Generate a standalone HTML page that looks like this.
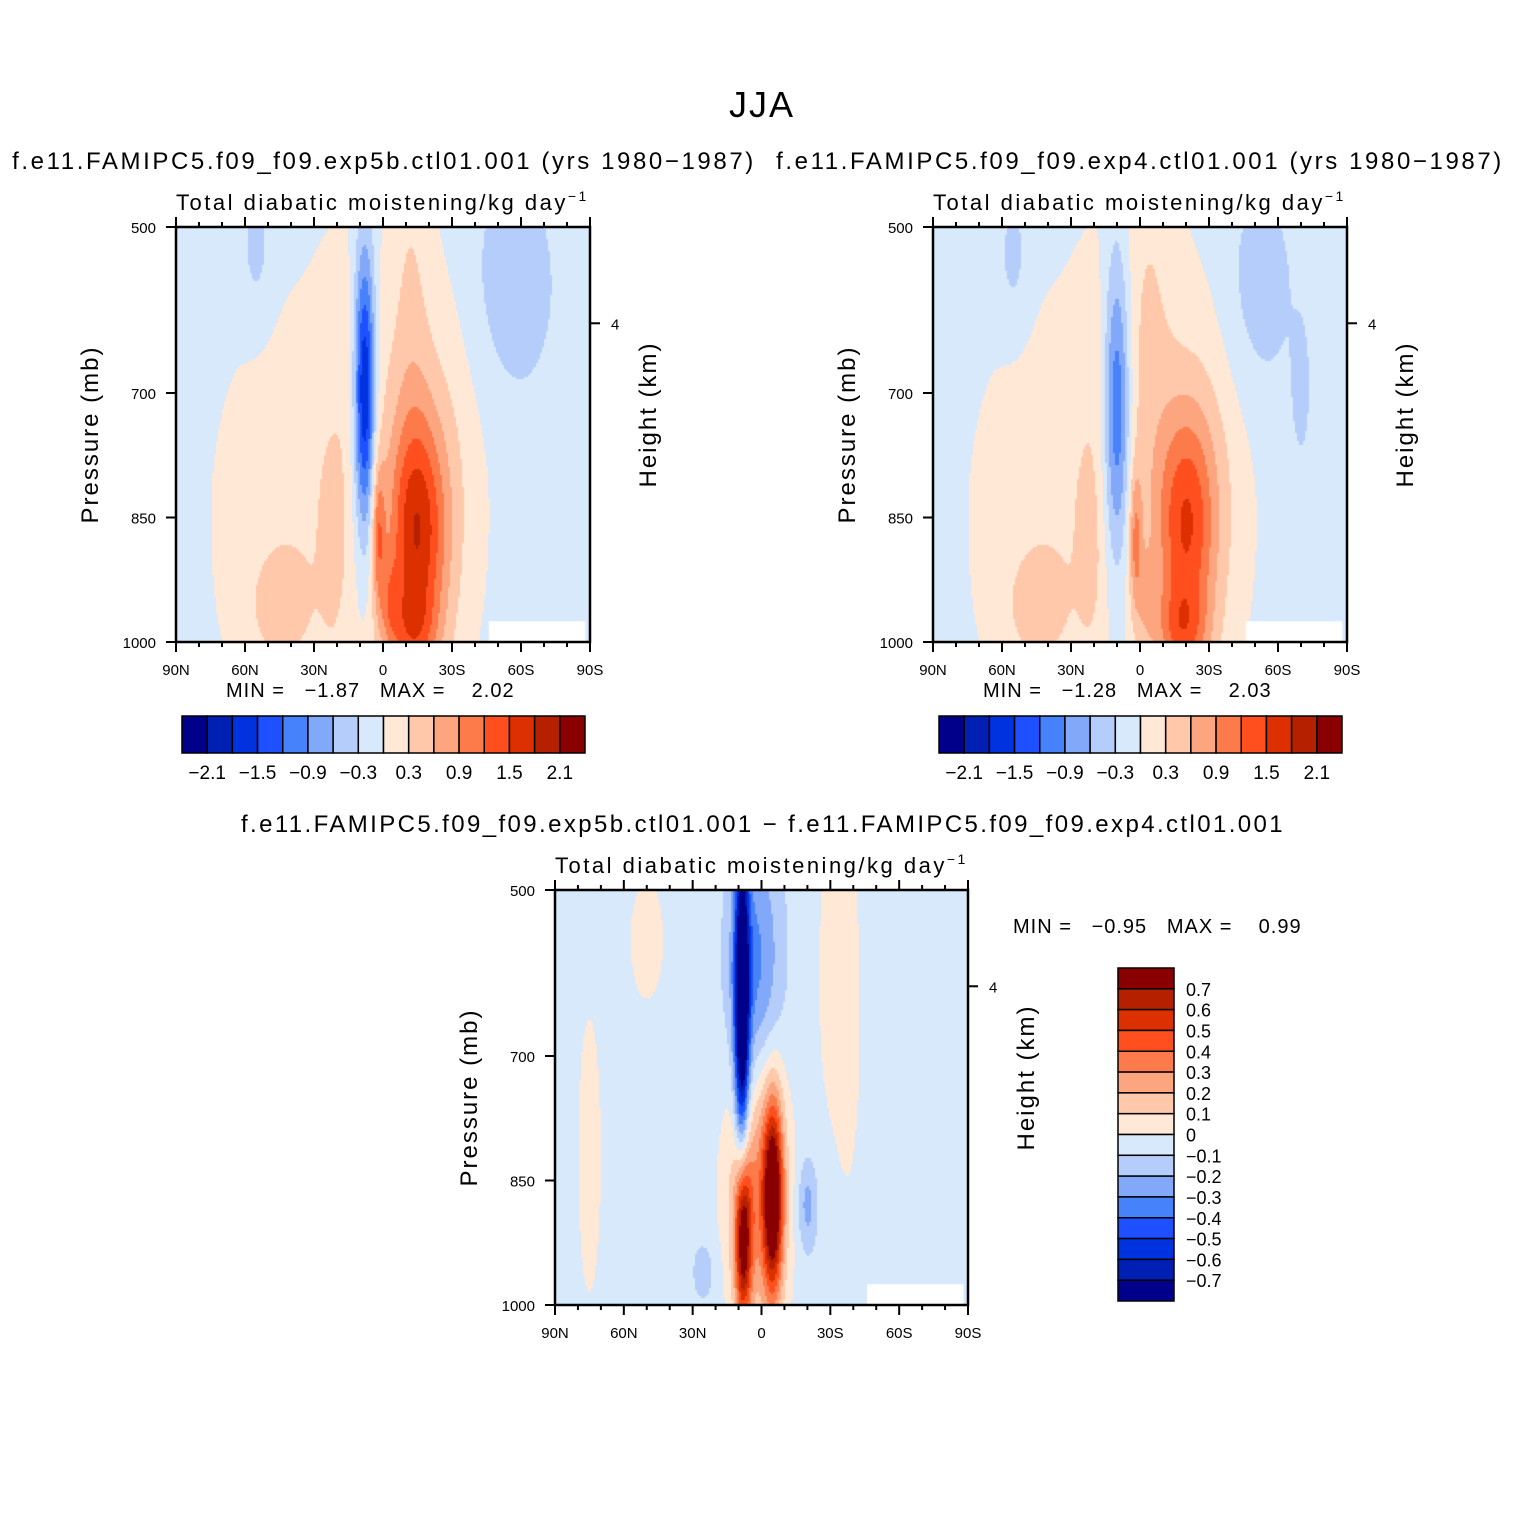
<!DOCTYPE html>
<html><head><meta charset="utf-8">
<style>
body{margin:0;background:#fff;width:1524px;height:1524px;position:relative;overflow:hidden;font-family:"Liberation Sans",sans-serif}
canvas{position:absolute}
svg{position:absolute;left:0;top:0}
text{white-space:pre}
</style></head><body>
<canvas id="c1" style="left:176px;top:227px" width="414" height="415"></canvas>
<canvas id="c2" style="left:933px;top:227px" width="414" height="415"></canvas>
<canvas id="c3" style="left:555px;top:890px" width="413" height="415"></canvas>
<svg id="s" width="1524" height="1524" xmlns="http://www.w3.org/2000/svg"></svg>
<script>
// ---- data ----
const levelsAbs=[-2.1,-1.8,-1.5,-1.2,-0.9,-0.6,-0.3,0,0.3,0.6,0.9,1.2,1.5,1.8,2.1];
const levelsDiff=[-0.7,-0.6,-0.5,-0.4,-0.3,-0.2,-0.1,0,0.1,0.2,0.3,0.4,0.5,0.6,0.7];
const colors=['#00008a','#0020b4','#0033e0','#1e50ff','#4682fa','#82a8fa','#b4cdfa','#d7e9fb','#ffe8d6','#ffc8ab','#fca57f','#fd7a4a','#ff4f1e','#dc3000','#b42000','#8a0000'];
const xTickLabels=['90N','60N','30N','0','30S','60S','90S'];
const xTickLats=[90,60,30,0,-30,-60,-90];
const yTickVals=[500,700,850,1000];
const barLabelsAbs=['−2.1','−1.5','−0.9','−0.3','0.3','0.9','1.5','2.1'];
const barLabelsDiff=['0.7','0.6','0.5','0.4','0.3','0.2','0.1','0','−0.1','−0.2','−0.3','−0.4','−0.5','−0.6','−0.7'];
// field blobs: lat, p, amplitude, lat-width, p-width
const bg1=-0.15;
const f1Lat=[35,45,8,-15,-12,2,-12,55,-55,22,-3,-25,12];
const f1P=[850,960,700,870,990,870,560,530,570,900,950,800,650];
const f1Amp=[0.36,0.35,-2.0,1.45,0.7,0.9,0.3,-0.3,-0.35,0.25,0.5,0.4,0.2];
const f1WLat=[30,10,3.2,9,8,2,6,5,14,4,3,15,12];
const f1WP=[200,50,120,100,40,60,250,60,100,80,40,200,150];
const bg2=-0.15;
const f2Lat=[35,45,10,-20,-18,2,-5,55,-50,22,-3,-70,-30,12];
const f2P=[850,960,720,860,990,880,560,540,580,900,950,700,800,650];
const f2Amp=[0.36,0.35,-1.35,1.3,0.8,0.8,0.3,-0.3,-0.35,0.25,0.4,-0.25,0.4,0.2];
const f2WLat=[30,10,4,9,8,2,8,5,12,4,3,3,15,12];
const f2WP=[200,50,130,100,40,60,250,60,100,80,40,60,200,150];
const bg3=-0.05;
const f3Lat=[8.5,3,8,-5,2,-38,50,-20,-30,25,75];
const f3P=[640,600,920,870,860,650,560,880,600,960,820];
const f3Amp=[-0.95,-0.3,0.75,0.85,0.35,0.1,0.1,-0.2,0.08,-0.1,0.07];
const f3WLat=[2.2,8,2.5,3,9,4,6,3,5,4,6];
const f3WP=[130,110,70,80,120,150,60,40,150,30,200];

function xOf(lat,x0,w){return x0+(90-lat)/180*w;}
function yOf(p,y0,h){return y0+(p-500)/500*h;}
function draw(id,bg,La,P,A,WL,WP,levels,mask){
  const c=document.getElementById(id),ctx=c.getContext('2d');
  const W=c.width,H=c.height,s=2;
  for(let y=0;y<H;y+=s)for(let x=0;x<W;x+=s){
    const lat=90-(x+1)/W*180,p=500+(y+1)/H*500;
    let v=bg;
    for(let i=0;i<La.length;i++){
      const a=(lat-La[i])/WL[i],b=(p-P[i])/WP[i];
      v+=A[i]*Math.exp(-0.5*(a*a+b*b));
    }
    let k=0;while(k<levels.length&&v>=levels[k])k++;
    ctx.fillStyle=colors[k];ctx.fillRect(x,y,s,s);
  }
  if(mask){ctx.fillStyle='#fff';
    ctx.fillRect((90-mask[0])/180*W,(mask[1]-500)/500*H,(mask[0]-mask[2])/180*W,H);}
}
draw('c1',bg1,f1Lat,f1P,f1Amp,f1WLat,f1WP,levelsAbs,[-46,975,-88]);
draw('c2',bg2,f2Lat,f2P,f2Amp,f2WLat,f2WP,levelsAbs,[-46,975,-88]);
draw('c3',bg3,f3Lat,f3P,f3Amp,f3WLat,f3WP,levelsDiff,[-46,975,-88]);

const S=document.getElementById('s'),NS='http://www.w3.org/2000/svg';
function el(t,a,txt){const e=document.createElementNS(NS,t);for(const k in a)e.setAttribute(k,a[k]);if(txt!==undefined)e.textContent=txt;S.appendChild(e);return e;}
function T(x,y,s,size,anchor,name,extra){const e=el('text',Object.assign({x:x,y:y,'font-size':size,'text-anchor':anchor||'start','font-family':'Liberation Sans, sans-serif',fill:'#000'},extra||{}),s);

return e;}
function panel(x0,y0,w,h,tag){
  const r=el('rect',{x:x0,y:y0,width:w,height:h,fill:'none',stroke:'#000','stroke-width':2.5});
  
  
  for(let lat=90;lat>=-90;lat-=10){
    const x=xOf(lat,x0,w),maj=lat%30===0,len=maj?10:5;
    el('line',{x1:x,y1:y0+h,x2:x,y2:y0+h+len,stroke:'#000','stroke-width':2});
    el('line',{x1:x,y1:y0,x2:x,y2:y0-len,stroke:'#000','stroke-width':2});
  }
  xTickLabels.forEach((t,i)=>T(xOf(xTickLats[i],x0,w),y0+h+33,t,15,'middle',tag+'-x-tick-label'));
  yTickVals.forEach(v=>{const y=yOf(v,y0,h);
    el('line',{x1:x0,y1:y,x2:x0-10,y2:y,stroke:'#000','stroke-width':2});
    T(x0-20,y+6,String(v),15,'end',tag+'-y-tick-label');});
  const y4=yOf(616,y0,h);
  el('line',{x1:x0+w,y1:y4,x2:x0+w+10,y2:y4,stroke:'#000','stroke-width':2});
  T(x0+w+21,y4+6,'4',15,'start',tag+'-right-tick-label');
  T(x0-78,y0+h/2,'Pressure (mb)',24,'middle',tag+'-y-axis-title',{transform:`rotate(-90 ${x0-78} ${y0+h/2})`,'letter-spacing':'2'});
  T(x0+w+66,y0+h/2-20,'Height (km)',24,'middle',tag+'-right-axis-title',{transform:`rotate(-90 ${x0+w+66} ${y0+h/2-20})`,'letter-spacing':'2'});
  const st=T(x0,y0-17,'Total diabatic moistening/kg day',22,'start',tag+'-subtitle',{'letter-spacing':'2.5'});
  const sp=document.createElementNS(NS,'tspan');sp.setAttribute('dy','-9');sp.setAttribute('font-size','14');sp.textContent='−1';st.appendChild(sp);
}
function hbar(x0,y0,w,h,tag,mn,mx){
  const bw=w/16;
  for(let i=0;i<16;i++){const r=el('rect',{x:x0+i*bw,y:y0,width:bw,height:h,fill:colors[i],stroke:'#000','stroke-width':1.5});
    
    }
  barLabelsAbs.forEach((t,i)=>T(x0+bw*(1+2*i),y0+h+26,t,19,'middle',tag+'-colorbar-label'));
  T(x0+44,y0-19,'MIN =   '+mn+'   MAX =    '+mx,20,'start',tag+'-min-max',{'letter-spacing':'1'});
}
T(762,117,'JJA',36,'middle','figure-title',{'letter-spacing':'2'});
T(384,169,'f.e11.FAMIPC5.f09_f09.exp5b.ctl01.001 (yrs 1980−1987)',24,'middle','left-panel-title',{'letter-spacing':'2.6'});
T(1140,169,'f.e11.FAMIPC5.f09_f09.exp4.ctl01.001 (yrs 1980−1987)',24,'middle','right-panel-title',{'letter-spacing':'2.6'});
T(763,832,'f.e11.FAMIPC5.f09_f09.exp5b.ctl01.001 − f.e11.FAMIPC5.f09_f09.exp4.ctl01.001',24,'middle','diff-panel-title',{'letter-spacing':'2.4'});
panel(176,227,414,415,'left');
panel(933,227,414,415,'right');
panel(555,890,413,415,'diff');
hbar(182,716,403,37,'left','−1.87','2.02');
hbar(939,716,403,37,'right','−1.28','2.03');
T(1013,933,'MIN =   −0.95   MAX =    0.99',20,'start','diff-min-max',{'letter-spacing':'1'});
const vx=1118,vy=968,vw=56,vh=333,bh=vh/16;
for(let i=0;i<16;i++){const r=el('rect',{x:vx,y:vy+i*bh,width:vw,height:bh,fill:colors[15-i],stroke:'#000','stroke-width':1.5});
  
  }
barLabelsDiff.forEach((t,i)=>T(vx+vw+12,vy+bh*(i+1)+7,t,18,'start','diff-colorbar-label'));
</script>
</body></html>
